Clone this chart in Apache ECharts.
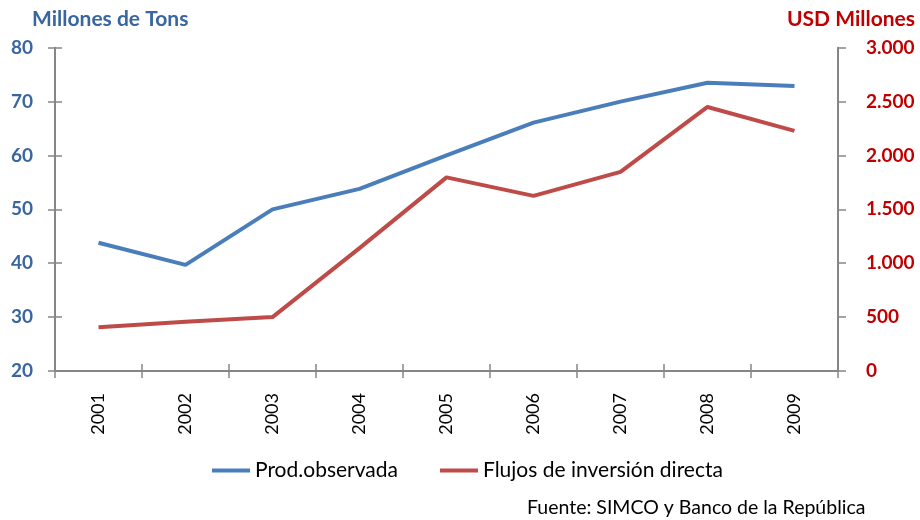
<!DOCTYPE html>
<html><head><meta charset="utf-8">
<script src="https://cdn.jsdelivr.net/npm/echarts@6/dist/echarts.min.js"></script>
<style>html,body{margin:0;padding:0;background:#fff}#c{width:920px;height:520px}</style>
</head><body><div id="c"></div>
<script>
const years = ['2001','2002','2003','2004','2005','2006','2007','2008','2009'];
const prodObservada = [43.8, 39.7, 50.0, 53.8, 60.0, 66.1, 70.0, 73.5, 72.9];
const flujosInversion = [405, 458, 500, 1140, 1797, 1625, 1848, 2450, 2228];
const leftTicks = [20, 80, 10];
const rightTicks = [0, 3000, 500];
const seriesNames = ['Prod.observada', 'Flujos de inversión directa'];
const leftTitle = 'Millones de Tons';
const rightTitle = 'USD Millones';
const sourceNote = 'Fuente: SIMCO y Banco de la República';

const FONT = 'Lato';
const axisGray = '#868686';
const blueTxt = '#3A66A0';
const redTxt = '#C00000';

const chart = echarts.init(document.getElementById('c'));
const fmtThousands = v => String(v).replace(/\B(?=(\d{3})+(?!\d))/g, '.');

chart.setOption({
  animation: false,
  backgroundColor: '#fff',
  grid: {left: 55, right: 82, top: 47.7, bottom: 149, containLabel: false},
  title: [
    {text: leftTitle, left: 27, top: 4, textStyle: {fontFamily: FONT, fontSize: 21, fontWeight: 'bold', color: blueTxt}},
    {text: rightTitle, right: 0, top: 4, textStyle: {fontFamily: FONT, fontSize: 21, fontWeight: 'bold', color: redTxt}}
  ],
  legend: {
    data: seriesNames.map(n => ({name: n, icon: 'rect'})),
    left: 207, top: 455, itemWidth: 38, itemHeight: 4, itemGap: 42,
    textStyle: {fontFamily: FONT, fontSize: 21, color: '#000'}
  },
  graphic: [{type: 'text', left: 527, top: 498, style: {text: sourceNote, fontFamily: FONT, fontSize: 19.5, fill: '#000'}}],
  xAxis: [
    {type: 'category', data: years, boundaryGap: true,
     axisLine: {lineStyle: {color: axisGray, width: 2}},
     axisTick: {show: true, inside: false, length: 7, lineStyle: {color: axisGray, width: 1.5}},
     axisLabel: {rotate: 90, margin: 22, fontFamily: FONT, fontSize: 18, color: '#000'}},
    {type: 'category', data: years, boundaryGap: true, position: 'bottom',
     axisLine: {show: false},
     axisTick: {show: true, inside: true, length: 7, lineStyle: {color: axisGray, width: 1.5}},
     axisLabel: {show: false}}
  ],
  yAxis: [
    {type: 'value', min: leftTicks[0], max: leftTicks[1], interval: leftTicks[2], position: 'left',
     splitLine: {show: false},
     axisLine: {show: true, lineStyle: {color: axisGray, width: 2}},
     axisTick: {show: true, inside: false, length: 7, lineStyle: {color: axisGray, width: 1.5}},
     axisLabel: {margin: 22, fontFamily: FONT, fontSize: 19, fontWeight: 'bold', color: blueTxt}},
    {type: 'value', min: rightTicks[0], max: rightTicks[1], interval: rightTicks[2], position: 'right',
     splitLine: {show: false},
     axisLine: {show: true, lineStyle: {color: axisGray, width: 2}},
     axisTick: {show: true, inside: false, length: 8, lineStyle: {color: axisGray, width: 1.5}},
     axisLabel: {margin: 22, fontFamily: FONT, fontSize: 19, fontWeight: 'bold', color: redTxt, formatter: fmtThousands,
       padding: [0, 0, 0, 6]}},
    {type: 'value', min: leftTicks[0], max: leftTicks[1], interval: leftTicks[2], position: 'left',
     splitLine: {show: false}, axisLine: {show: false},
     axisTick: {show: true, inside: true, length: 7, lineStyle: {color: axisGray, width: 1.5}},
     axisLabel: {show: false}}
  ],
  series: [
    {name: seriesNames[0], type: 'line', data: prodObservada, yAxisIndex: 0, xAxisIndex: 0,
     symbol: 'none', lineStyle: {color: '#4A7EBB', width: 4}, itemStyle: {color: '#4A7EBB'}},
    {name: seriesNames[1], type: 'line', data: flujosInversion, yAxisIndex: 1, xAxisIndex: 0,
     symbol: 'none', lineStyle: {color: '#BE4B48', width: 4}, itemStyle: {color: '#BE4B48'}}
  ]
});
</script></body></html>
